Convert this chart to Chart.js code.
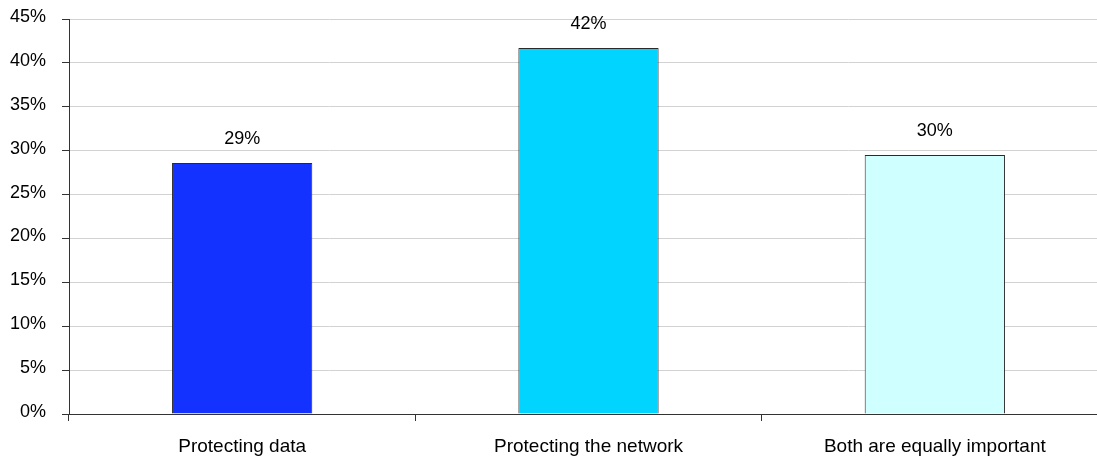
<!DOCTYPE html>
<html>
<head>
<meta charset="utf-8">
<script src="https://cdn.jsdelivr.net/npm/chart.js@4"></script>
<style>
  html, body { margin: 0; padding: 0; background: #fff; overflow: hidden; }
  #wrap { width: 1108px; height: 458px; }
</style>
</head>
<body>
<div id="wrap"><canvas id="c" width="1108" height="458"></canvas></div>
<script>
// Survey answers: which matters more
const categories = ['Protecting data', 'Protecting the network', 'Both are equally important'];
const shares = [28.6, 41.7, 29.5];
const barColors = ['#1432FF', '#00D4FF', '#D0FFFF'];
const yTicks = [0, 5, 10, 15, 20, 25, 30, 35, 40, 45];

const FONT = "'Liberation Sans', Arial, sans-serif";

// Percentage text above each bar
const valueLabels = {
  id: 'valueLabels',
  afterDatasetsDraw(chart) {
    const ctx = chart.ctx;
    const meta = chart.getDatasetMeta(0);
    ctx.save();
    ctx.font = '18px ' + FONT;
    ctx.fillStyle = '#000';
    ctx.textAlign = 'center';
    ctx.textBaseline = 'middle';
    meta.data.forEach((bar, i) => {
      const v = chart.data.datasets[0].data[i];
      ctx.fillText(Math.round(v) + '%', bar.x, bar.y - 24);
    });
    ctx.restore();
  }
};

new Chart(document.getElementById('c'), {
  type: 'bar',
  data: {
    labels: categories,
    datasets: [{
      data: shares,
      backgroundColor: barColors,
      borderColor: '#2a2a2a',
      borderWidth: 1,
      categoryPercentage: 1,
      barPercentage: 0.405
    }]
  },
  options: {
    responsive: false,
    animation: false,
    devicePixelRatio: 1,
    layout: { padding: { top: 19, right: 0, bottom: 0, left: 0 } },
    plugins: {
      legend: { display: false },
      tooltip: { enabled: false }
    },
    scales: {
      x: {
        offset: true,
        grid: {
          offset: true,
          drawOnChartArea: false,
          drawTicks: true,
          tickLength: 7,
          tickColor: '#333'
        },
        border: { color: '#333', width: 1 },
        ticks: {
          color: '#000',
          font: { family: FONT, size: 19 },
          padding: 14,
          maxRotation: 0
        },
        afterFit(scale) {
          scale.height = 44;
          scale.paddingLeft = 0;
          scale.paddingRight = 0;
        }
      },
      y: {
        min: 0,
        max: 45,
        afterBuildTicks(scale) { scale.ticks = yTicks.map(v => ({ value: v })); },
        grid: {
          color: '#d2d2d2',
          tickColor: '#333',
          tickLength: 7,
          drawTicks: true
        },
        border: { color: '#333', width: 1 },
        ticks: {
          color: '#000',
          font: { family: FONT, size: 18 },
          padding: 16,
          labelOffset: -2,
          callback: v => v + '%'
        },
        afterFit(scale) {
          scale.width = 69;
          scale.paddingTop = 0;
          scale.paddingBottom = 0;
        }
      }
    }
  },
  plugins: [valueLabels]
});
</script>
</body>
</html>
